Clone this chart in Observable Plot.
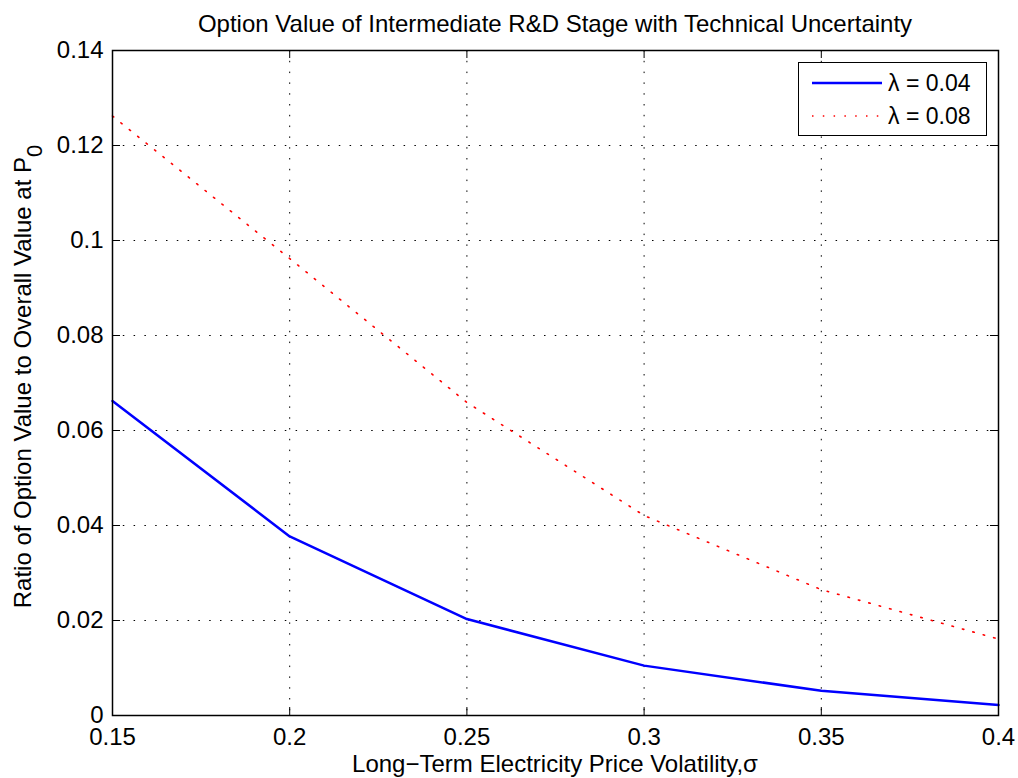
<!DOCTYPE html>
<html>
<head>
<meta charset="utf-8">
<script src="https://cdn.jsdelivr.net/npm/d3@7"></script>
<script src="https://cdn.jsdelivr.net/npm/@observablehq/plot@0.6"></script>
<style>
  html, body { margin: 0; padding: 0; background: #fff; }
  #wrap { position: relative; width: 1018px; height: 778px; font-family: "Liberation Sans", Arial, Helvetica, sans-serif; }
  #legend { position: absolute; left: 798px; top: 62px; width: 187px; height: 72px; border: 1.5px solid #000; background: #fff; }
  #legend .row { position: absolute; left: 0; height: 26px; display: flex; align-items: center; font-size: 23px; color: #000; }
  #legend svg { margin-left: 13px; margin-right: 6px; }
</style>
</head>
<body>
<div id="wrap"></div>
<script>
// Data
const sigma = [0.15, 0.2, 0.25, 0.3, 0.35, 0.4];
const ratioLambda004 = [0.0662, 0.0377, 0.0203, 0.0105, 0.0052, 0.0022];
const ratioLambda008 = [0.1262, 0.0962, 0.0659, 0.0421, 0.0265, 0.0161];
const seriesNames = ["λ = 0.04", "λ = 0.08"];
const xTicks = [0.15, 0.2, 0.25, 0.3, 0.35, 0.4];
const yTicks = [0, 0.02, 0.04, 0.06, 0.08, 0.1, 0.12, 0.14];
const titleText = "Option Value of Intermediate R&D Stage with Technical Uncertainty";
const xLabelText = "Long\u2212Term Electricity Price Volatility,\u03c3";
const yLabelText = "Ratio of Option Value to Overall Value at P";
const yLabelSub = "0";

const W = 1018, H = 778;
const mL = 112, mR = 20, mT = 50, mB = 63;
const innerW = W - mL - mR, innerH = H - mT - mB;
const tickLen = 8;
const dotted = "1.5,9.3";
const fs = 24;

const rows004 = sigma.map((s, i) => ({sigma: s, ratio: ratioLambda004[i]}));
const rows008 = sigma.map((s, i) => ({sigma: s, ratio: ratioLambda008[i]}));

const chart = Plot.plot({
  width: W, height: H,
  marginLeft: mL, marginRight: mR, marginTop: mT, marginBottom: mB,
  style: {fontFamily: "Liberation Sans, Arial, Helvetica, sans-serif", fontSize: fs + "px", background: "white", color: "black", overflow: "visible"},
  x: {domain: [0.15, 0.4]},
  y: {domain: [0, 0.14]},
  marks: [
    Plot.gridX(xTicks, {stroke: "#000", strokeOpacity: 1, strokeWidth: 1, strokeDasharray: dotted}),
    Plot.gridY(yTicks, {stroke: "#000", strokeOpacity: 1, strokeWidth: 1, strokeDasharray: dotted}),
    Plot.line(rows008, {x: "sigma", y: "ratio", stroke: "#ff0000", strokeWidth: 1.6, strokeDasharray: dotted}),
    Plot.line(rows004, {x: "sigma", y: "ratio", stroke: "#0000ff", strokeWidth: 2.5}),
    Plot.tickX(xTicks, {x: d => d, insetTop: innerH - tickLen, stroke: "#000"}),
    Plot.tickX(xTicks, {x: d => d, insetBottom: innerH - tickLen, stroke: "#000"}),
    Plot.tickY(yTicks, {y: d => d, insetRight: innerW - tickLen, stroke: "#000"}),
    Plot.tickY(yTicks, {y: d => d, insetLeft: innerW - tickLen, stroke: "#000"}),
    Plot.axisX(xTicks, {tickSize: 0, tickPadding: 12, tickFormat: d => String(d), label: null, fontSize: fs}),
    Plot.axisY(yTicks, {tickSize: 0, tickPadding: 9, tickFormat: d => String(d), label: null, fontSize: fs}),
    Plot.frame({stroke: "#000", strokeWidth: 1.5})
  ]
});

const svg = d3.select(chart);
svg.append("text")
  .attr("x", mL + innerW / 2).attr("y", 32)
  .attr("text-anchor", "middle").attr("font-size", fs).attr("fill", "#000")
  .text(titleText);
svg.append("text")
  .attr("x", mL + innerW / 2).attr("y", 772)
  .attr("text-anchor", "middle").attr("font-size", fs).attr("fill", "#000")
  .text(xLabelText);
const yl = svg.append("text")
  .attr("transform", `translate(31,${mT + innerH / 2 - 6}) rotate(-90)`)
  .attr("text-anchor", "middle").attr("font-size", fs).attr("fill", "#000");
yl.append("tspan").text(yLabelText);
yl.append("tspan").attr("dy", 11).attr("font-size", 22).text(yLabelSub);

const wrap = document.getElementById("wrap");
wrap.appendChild(chart);

// Legend inside the axes, top-right
const legend = document.createElement("div");
legend.id = "legend";
const styles = [
  {stroke: "#0000ff", width: 2.5, dash: null},
  {stroke: "#ff0000", width: 1.6, dash: dotted}
];
seriesNames.forEach((name, i) => {
  const row = document.createElement("div");
  row.className = "row";
  row.style.top = (i === 0 ? 7 : 40) + "px";
  const s = styles[i];
  row.innerHTML = `<svg width="70" height="10"><line x1="0" x2="70" y1="5" y2="5" stroke="${s.stroke}" stroke-width="${s.width}" ${s.dash ? `stroke-dasharray="${s.dash}"` : ""}/></svg><span>${name}</span>`;
  legend.appendChild(row);
});
wrap.appendChild(legend);
</script>
</body>
</html>
